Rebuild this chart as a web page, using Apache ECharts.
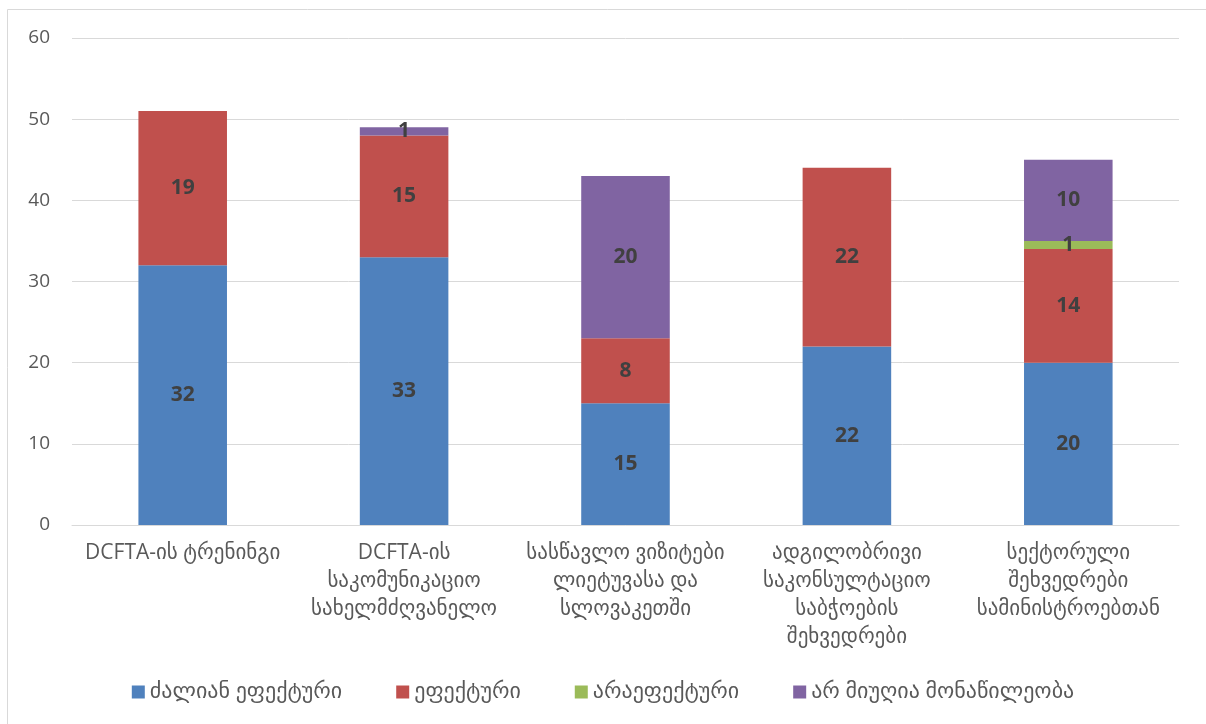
<!DOCTYPE html>
<html>
<head>
<meta charset="utf-8">
<script src="https://cdn.jsdelivr.net/npm/echarts@6/dist/echarts.min.js"></script>
<style>
  html, body { margin: 0; padding: 0; background: #fff; }
  #main { width: 1206px; height: 724px; }
</style>
</head>
<body>
<div id="main"></div>
<script>
// კატეგორიები და მნიშვნელობები
const categories = [
    'DCFTA-ის ტრენინგი',
    'DCFTA-ის\nსაკომუნიკაციო\nსახელმძღვანელო',
    'სასწავლო ვიზიტები\nლიეტუვასა და\nსლოვაკეთში',
    'ადგილობრივი\nსაკონსულტაციო\nსაბჭოების\nშეხვედრები',
    'სექტორული\nშეხვედრები\nსამინისტროებთან'
];
const seriesNames = ['ძალიან ეფექტური', 'ეფექტური', 'არაეფექტური', 'არ მიუღია მონაწილეობა'];
const veryEffective = [32, 33, 15, 22, 20];
const effective = [19, 15, 8, 22, 14];
const notEffective = [0, 0, 0, 0, 1];
const noParticipation = [0, 1, 20, 0, 10];
const yTicks = [0, 10, 20, 30, 40, 50, 60];

const colors = ['#4F81BD', '#C0504D', '#9BBB59', '#8064A2'];
const geoFont = "'Open Sans', 'DejaVu Sans', sans-serif";

let chart = echarts.init(document.getElementById('main'));

let values = [veryEffective, effective, notEffective, noParticipation];
let mySeries = values.map((vals, i) => ({
    name: seriesNames[i],
    type: 'bar',
    stack: 'total',
    barWidth: '40%',
    itemStyle: { color: colors[i] },
    emphasis: { disabled: true },
    data: vals,
    label: {
        show: true,
        position: 'inside',
        color: '#404040',
        fontSize: 21,
        fontWeight: 'bold',
        fontFamily: "'Open Sans', sans-serif",
        formatter: p => (p.value ? p.value : '')
    }
}));

const option = {
    animation: false,
    textStyle: { fontFamily: geoFont },
    graphic: [{
        type: 'rect',
        shape: { x: 7.5, y: 9.5, width: 1300, height: 800 },
        style: { fill: 'none', stroke: '#d9d9d9', lineWidth: 1 },
        silent: true
    }],
    grid: { left: 72, right: 27, top: 38, bottom: 199, containLabel: false },
    legend: {
        bottom: 16,
        left: 'center',
        itemWidth: 13,
        itemHeight: 13,
        itemGap: 54,
        icon: 'rect',
        textStyle: { fontSize: 22, color: '#595959', fontFamily: geoFont },
        data: seriesNames
    },
    xAxis: {
        type: 'category',
        data: categories,
        axisTick: { show: false },
        axisLine: { lineStyle: { color: '#d9d9d9' } },
        axisLabel: {
            interval: 0,
            margin: 14,
            fontSize: 21,
            lineHeight: 28,
            color: '#595959',
            fontFamily: geoFont
        }
    },
    yAxis: {
        type: 'value',
        min: yTicks[0],
        max: yTicks[yTicks.length - 1],
        interval: 10,
        axisLine: { show: false },
        axisTick: { show: false },
        splitLine: { lineStyle: { color: '#d9d9d9' } },
        axisLabel: { fontSize: 19, color: '#595959', margin: 22, fontFamily: "'Open Sans', sans-serif" }
    },
    series: mySeries
};
chart.setOption(option);
</script>
</body>
</html>
